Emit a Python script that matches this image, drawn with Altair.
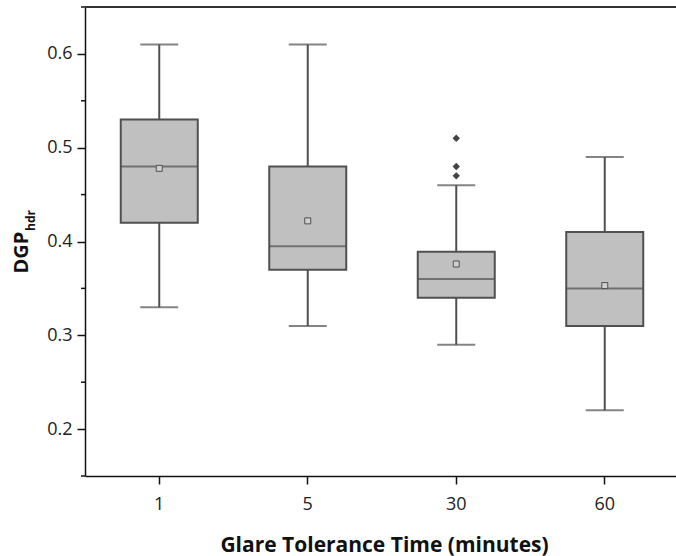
import altair as alt
import pandas as pd

# ---- data ----
categories = ["1", "5", "30", "60"]
whisker_low = [0.33, 0.31, 0.29, 0.22]
q1 = [0.42, 0.37, 0.34, 0.31]
median = [0.48, 0.395, 0.36, 0.35]
q3 = [0.53, 0.48, 0.389, 0.41]
whisker_high = [0.61, 0.61, 0.46, 0.49]
mean = [0.478, 0.422, 0.376, 0.353]
outlier_cat = ["30", "30", "30"]
outlier_val = [0.51, 0.48, 0.47]
major_ticks = [0.2, 0.3, 0.4, 0.5, 0.6]
minor_ticks = [0.15, 0.25, 0.35, 0.45, 0.55, 0.65]
x_title = "Glare Tolerance Time (minutes)"
y_title_main = "DGP"
y_title_sub = "hdr"

FONT = "Open Sans"
BOX_FILL = "#c0c0c0"
LINE = "#505050"

stats = pd.DataFrame({
    "cat": categories, "lo": whisker_low, "q1": q1, "med": median,
    "q3": q3, "hi": whisker_high, "mean": mean,
})
outliers = pd.DataFrame({"cat": outlier_cat, "v": outlier_val})
minor = pd.DataFrame({"v": minor_ticks})
top = pd.DataFrame({"v": [max(minor_ticks)]})
ttl = pd.DataFrame({"sub": [y_title_sub]})

yscale = alt.Scale(domain=[0.15, 0.65], nice=False, zero=False)
yaxis = alt.Axis(values=major_ticks, format=".1f", title=y_title_main, grid=False,
                 tickSize=8, tickWidth=1.5, tickColor="#111",
                 domainColor="#111", domainWidth=1.5,
                 labelFont=FONT, labelFontSize=18, labelColor="#222",
                 labelPadding=5,
                 titleFont=FONT, titleFontSize=20, titleFontWeight="bold",
                 titleColor="#111", titleAlign="left",
                 titleBaseline="alphabetic", titleX=-58, titleY=266)
xscale = alt.Scale(domain=categories, range=[0, 594], paddingInner=0, paddingOuter=0)
xaxis = alt.Axis(title=x_title, labelAngle=0, tickSize=8, tickWidth=1.5,
                 tickColor="#111", domainColor="#111", domainWidth=1.5,
                 labelFont=FONT, labelFontSize=18, labelColor="#222",
                 labelPadding=11, titleFont=FONT, titleFontSize=21,
                 titleFontWeight="bold", titleColor="#111",
                 titleBaseline="alphabetic", titleY=75, titleX=299)


def X():
    return alt.X("cat:N", scale=xscale, axis=xaxis, sort=categories)


def Y(field):
    return alt.Y(f"{field}:Q", scale=yscale, axis=yaxis)


base = alt.Chart(stats)

whisk = base.mark_rule(color=LINE, strokeWidth=2).encode(x=X(), y=Y("lo"), y2="hi")
caps_lo = base.mark_tick(color=LINE, size=38, thickness=2).encode(x=X(), y=Y("lo"))
caps_hi = base.mark_tick(color=LINE, size=38, thickness=2).encode(x=X(), y=Y("hi"))
box = base.mark_bar(size=77, fill=BOX_FILL, stroke=LINE, strokeWidth=2).encode(
    x=X(), y=Y("q1"), y2="q3")
med = base.mark_tick(color=LINE, size=77, thickness=2).encode(x=X(), y=Y("med"))
mn = base.mark_point(shape="square", size=36, filled=False, stroke=LINE,
                     strokeWidth=1, fill="#cfcfcf", fillOpacity=1, opacity=1).encode(
    x=X(), y=Y("mean"))
outl = alt.Chart(outliers).mark_point(shape="diamond", size=55, filled=True,
                                      color="#444", opacity=1).encode(x=X(), y=Y("v"))
minor_r = alt.Chart(minor).mark_rule(color="#111", strokeWidth=1.5).encode(
    x=alt.value(-4), x2=alt.value(0), y=Y("v"))
top_r = alt.Chart(top).mark_rule(color="#333", strokeWidth=2).encode(y=Y("v"))
t_sub = alt.Chart(ttl).mark_text(align="left", baseline="alphabetic",
                                 font=FONT, fontSize=12, fontWeight="bold",
                                 color="#111", angle=270).encode(
    x=alt.value(-50), y=alt.value(224), text="sub:N")

chart = alt.layer(whisk, caps_lo, caps_hi, box, med, mn, outl, minor_r, top_r,
                  t_sub).properties(
    width=591, height=469,
    autosize=alt.AutoSizeParams(type="none"),
    padding={"left": 85, "top": 7, "right": 0, "bottom": 80},
).configure_view(stroke=None).configure(background="white")

chart.save("out.html", embed_options={"renderer": "svg", "actions": False})
